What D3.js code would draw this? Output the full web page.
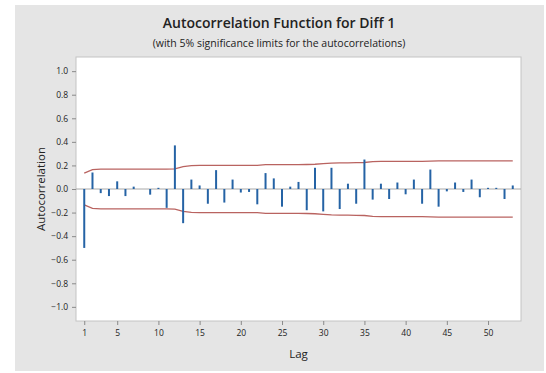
<!DOCTYPE html>
<html>
<head>
<meta charset="utf-8">
<script src="https://cdn.jsdelivr.net/npm/d3@7"></script>
<style>
  body { margin: 0; background: #fff; }
  text { font-family: "Open Sans", "Noto Sans", sans-serif; }
</style>
</head>
<body>
<div id="chart"></div>
<script>
// autocorrelation per lag (lag 1..53)
const lags = d3.range(1, 54);
const acf = [
  -0.50, 0.14, -0.035, -0.06, 0.065, -0.06, 0.02, 0.0, -0.048, 0.01,
  -0.16, 0.37, -0.29, 0.08, 0.03, -0.125, 0.16, -0.115, 0.08, -0.03,
  -0.025, -0.13, 0.135, 0.09, -0.15, 0.02, 0.06, -0.18, 0.18, -0.19,
  0.18, -0.17, 0.045, -0.125, 0.25, -0.09, 0.045, -0.085, 0.055, -0.045,
  0.08, -0.125, 0.165, -0.15, -0.02, 0.055, -0.025, 0.08, -0.07, 0.01,
  0.01, -0.085, 0.03
];
// 5% significance limit (upper; lower is the negative)
const limit = [
  0.135, 0.165, 0.168, 0.168, 0.168, 0.168, 0.168, 0.168, 0.168, 0.168,
  0.168, 0.17, 0.19, 0.198, 0.2, 0.2, 0.2, 0.2, 0.2, 0.2,
  0.2, 0.2, 0.207, 0.207, 0.207, 0.207, 0.207, 0.208, 0.21, 0.215,
  0.22, 0.222, 0.222, 0.223, 0.225, 0.233, 0.235, 0.235, 0.235, 0.235,
  0.235, 0.235, 0.236, 0.238, 0.238, 0.238, 0.238, 0.238, 0.238, 0.238,
  0.238, 0.238, 0.238
];
const xTicks = [1, 5, 10, 15, 20, 25, 30, 35, 40, 45, 50];
const yTicks = [-1.0, -0.8, -0.6, -0.4, -0.2, 0.0, 0.2, 0.4, 0.6, 0.8, 1.0];

const width = 546, height = 373;
const plot = { left: 76, top: 57, right: 521, bottom: 321 };

const svg = d3.select('#chart').append('svg')
  .attr('width', width).attr('height', height);

// gray panel
svg.append('rect').attr('x', 15).attr('y', 5)
  .attr('width', 529).attr('height', 366).attr('fill', '#e5e5e5');

// plot area with a soft edge
svg.append('rect').attr('x', plot.left).attr('y', plot.top)
  .attr('width', plot.right - plot.left).attr('height', plot.bottom - plot.top)
  .attr('fill', '#fff').attr('stroke', '#c4c4c4').attr('stroke-width', 1);

const x = d3.scaleLinear([0, 54], [plot.left, plot.right]);
const y = d3.scaleLinear([-1.12, 1.12], [plot.bottom, plot.top]);

// zero line
svg.append('line')
  .attr('x1', plot.left).attr('x2', plot.right)
  .attr('y1', y(0)).attr('y2', y(0))
  .attr('stroke', '#a8a8a8').attr('stroke-width', 1);

// limits
const line = d3.line().x((d, i) => x(lags[i])).y(d => y(d));
svg.append('path').datum(limit).attr('d', line)
  .attr('fill', 'none').attr('stroke', '#ad4844').attr('stroke-opacity', 0.85).attr('stroke-width', 1.3);
svg.append('path').datum(limit.map(d => -d)).attr('d', line)
  .attr('fill', 'none').attr('stroke', '#ad4844').attr('stroke-opacity', 0.85).attr('stroke-width', 1.3);

// bars
svg.append('g').selectAll('line').data(acf).join('line')
  .attr('x1', (d, i) => x(lags[i])).attr('x2', (d, i) => x(lags[i]))
  .attr('y1', y(0)).attr('y2', d => y(d))
  .attr('stroke', '#2563a5').attr('stroke-width', 2);

// axes
const xAxis = d3.axisBottom(x).tickValues(xTicks).tickSize(4).tickSizeOuter(0);
const gx = svg.append('g').attr('transform', `translate(0,${plot.bottom})`).call(xAxis);
const yAxis = d3.axisLeft(y).tickValues(yTicks).tickFormat(d3.format('.1f')).tickSize(4).tickSizeOuter(0);
const gy = svg.append('g').attr('transform', `translate(${plot.left},0)`).call(yAxis);
[gx, gy].forEach(g => {
  g.select('.domain').remove();
  g.selectAll('line').attr('stroke', '#8a8a8a');
  g.selectAll('text').attr('fill', '#222').style('font-size', '8.5px');
});
gx.selectAll('text').attr('dy', '0.9em');
gy.selectAll('text').attr('dx', '-0.1em');

// titles
svg.append('text').attr('x', 279).attr('y', 28).attr('text-anchor', 'middle')
  .style('font-size', '14px').style('font-weight', 600).attr('fill', '#222')
  .text('Autocorrelation Function for Diff 1');
svg.append('text').attr('x', 279).attr('y', 47).attr('text-anchor', 'middle')
  .style('font-size', '10.5px').attr('fill', '#222')
  .text('(with 5% significance limits for the autocorrelations)');
svg.append('text').attr('x', (plot.left + plot.right) / 2).attr('y', 358)
  .attr('text-anchor', 'middle').style('font-size', '11.5px').attr('fill', '#222')
  .text('Lag');
svg.append('text')
  .attr('transform', `translate(45,${(plot.top + plot.bottom) / 2}) rotate(-90)`)
  .attr('text-anchor', 'middle').style('font-size', '11.5px').attr('fill', '#222')
  .text('Autocorrelation');
</script>
</body>
</html>
